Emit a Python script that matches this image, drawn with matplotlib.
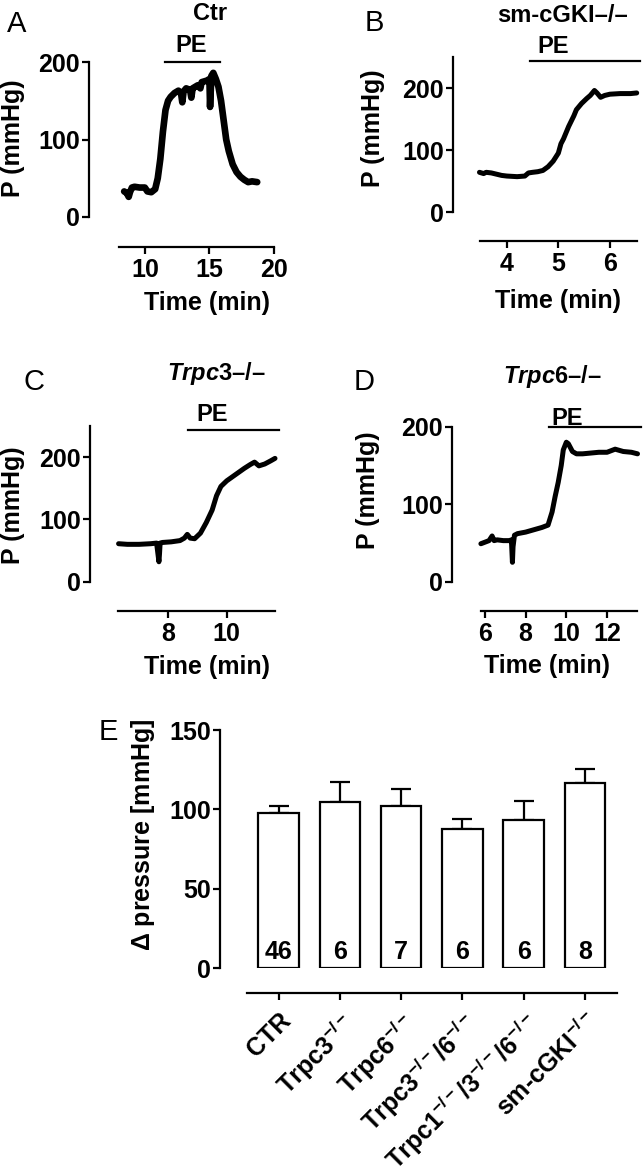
#
# Pressure traces (A-D) and delta pressure bar chart (E)
#

import numpy as np
import matplotlib.pyplot as plt

plt.rcParams['font.family'] = ['Liberation Sans', 'DejaVu Sans']
plt.rcParams['font.weight'] = 'bold'
plt.rcParams['mathtext.fontset'] = 'custom'
plt.rcParams['mathtext.rm'] = 'Liberation Sans'
plt.rcParams['mathtext.bf'] = 'Liberation Sans:bold'
plt.rcParams['mathtext.it'] = 'Liberation Sans:italic'
plt.rcParams['mathtext.bfit'] = 'Liberation Sans:italic:bold'

# Data
# A - Ctr
t_A = [8.4, 8.6, 8.75, 8.85, 9.0, 9.2, 9.6, 10.0, 10.2, 10.5, 10.8, 11.0, 11.2, 11.4,
       11.6, 11.8, 12.0, 12.3, 12.6, 12.8, 12.9, 13.0, 13.2, 13.5, 13.6, 13.7, 13.9,
       14.1, 14.3, 14.4, 14.6, 14.8, 15.0, 15.05, 15.15, 15.3, 15.5, 15.7, 15.9, 16.1,
       16.3, 16.5, 16.8, 17.1, 17.4, 17.7, 18.0, 18.3, 18.7]
p_A = [33, 31, 26, 32, 38, 39, 38, 38, 33, 32, 36, 50, 75, 110,
       138, 150, 155, 160, 163, 160, 148, 162, 166, 164, 154, 166, 168,
       170, 166, 174, 175, 176, 178, 142, 182, 186, 178, 168, 150, 125,
       100, 85, 68, 58, 52, 48, 45, 46, 45]
# B - sm-cGKI-/-
t_B = [3.47, 3.55, 3.6, 3.7, 3.8, 3.9, 4.0, 4.2, 4.35, 4.42, 4.5, 4.6, 4.7, 4.8, 4.9,
       5.0, 5.05, 5.1, 5.2, 5.3, 5.35, 5.45, 5.55, 5.62, 5.7, 5.75, 5.82, 5.9, 6.0,
       6.2, 6.4, 6.52]
p_B = [64, 62, 64, 63, 61, 59, 58, 57, 58, 63, 64, 65, 67, 73, 82,
       95, 110, 118, 138, 155, 165, 175, 183, 188, 196, 192, 185, 188, 190,
       191, 191, 192]
# C - Trpc3-/-
t_C = [6.3, 6.6, 7.0, 7.4, 7.6, 7.68, 7.7, 7.72, 7.8, 8.1, 8.4, 8.55, 8.65, 8.75, 8.9,
       9.1, 9.3, 9.5, 9.65, 9.8, 10.0, 10.3, 10.6, 10.8, 10.95, 11.1, 11.3, 11.5, 11.65]
p_C = [61, 60, 60, 61, 62, 32, 45, 62, 63, 64, 66, 70, 76, 70, 69,
       78, 95, 115, 138, 153, 162, 172, 182, 188, 192, 186, 189, 194, 198]
# D - Trpc6-/-
t_D = [5.8, 6.0, 6.2, 6.35, 6.45, 6.6, 6.9, 7.2, 7.3, 7.35, 7.38, 7.45, 7.6, 8.0, 8.4,
       8.8, 9.1, 9.3, 9.45, 9.6, 9.75, 9.85, 10.0, 10.1, 10.3, 10.5, 10.8, 11.2, 11.6,
       12.0, 12.4, 12.8, 13.2, 13.5]
p_D = [49, 51, 53, 59, 53, 54, 53, 53, 54, 25, 45, 60, 62, 64, 67,
       70, 73, 90, 110, 128, 150, 170, 180, 178, 168, 165, 165, 166, 167,
       167, 171, 168, 167, 165]

# E - bar chart
groups = ['CTR', r'Trpc3$^{\mathbf{-/-}}$', r'Trpc6$^{\mathbf{-/-}}$',
          r'Trpc3$^{\mathbf{-/-}}$/6$^{\mathbf{-/-}}$',
          r'Trpc1$^{\mathbf{-/-}}$/3$^{\mathbf{-/-}}$/6$^{\mathbf{-/-}}$',
          r'sm-cGKI$^{\mathbf{-/-}}$']
means = [98, 104.6, 102, 87.6, 93.3, 116.7]
sems = [4, 12.6, 10.8, 6.4, 11.9, 8.6]
n_animals = [46, 6, 7, 6, 6, 8]

FS = 18

W, H = 643, 1166
fig = plt.figure(figsize=(W / 100, H / 100), dpi=100)


def px_axes(left, top, right, bottom):
    return fig.add_axes([left / W, 1 - bottom / H, (right - left) / W, (bottom - top) / H])


def ftext(x, y, s, **kw):
    kw.setdefault('ha', 'center')
    kw.setdefault('va', 'center')
    return fig.text(x / W, 1 - y / H, s, **kw)


def prism_style(ax, off_left, off_bottom):
    for side in ['top', 'right']:
        ax.spines[side].set_visible(False)
    ax.spines['left'].set_position(('outward', off_left * 0.72))
    ax.spines['bottom'].set_position(('outward', off_bottom * 0.72))
    for side in ['left', 'bottom']:
        ax.spines[side].set_linewidth(1.6)
    ax.tick_params(width=1.6, length=5, labelsize=FS, pad=1.5)
    ax.tick_params(axis='x', pad=3)
    ax.patch.set_visible(False)


# trace panels: (times, pressures, box px, offsets, xlim, ylim, yticks, xticks, PE bar, PE text pos, lw)
panels = [
    (t_A, p_A, (119, 62, 274, 217), (30, 30), (8, 20), (0, 200), [0, 100, 200], [10, 15, 20],
     (11.55, 15.8, 200), (13.6, 221), 4.8),
    (t_B, p_B, (480, 57, 636.7, 212), (27, 29), (3.48, 6.52), (0, 250), [0, 100, 200], [4, 5, 6],
     (4.45, 6.58, 243), (4.9, 267), 3.6),
    (t_C, p_C, (118, 426, 275, 581.7), (28, 29), (6.28, 11.65), (0, 250), [0, 100, 200], [8, 10],
     (8.68, 11.8, 243), (9.5, 269), 3.6),
    (t_D, p_D, (480.7, 426.7, 636.7, 581.7), (29, 29), (5.79, 13.46), (0, 200), [0, 100, 200],
     [6, 8, 10, 12], (9.17, 13.65, 200), (10.04, 211), 3.6),
]

for t, p, box, offs, xl, yl, yt, xt, pe_bar, pe_txt, lw in panels:
    ax = px_axes(*box)
    ax.plot(t, p, color='black', lw=lw, solid_joinstyle='round', solid_capstyle='round',
            clip_on=False)
    ax.set_xlim(*xl)
    ax.set_ylim(*yl)
    ax.set_yticks(yt)
    ax.set_xticks(xt)
    prism_style(ax, *offs)
    ax.plot([pe_bar[0], pe_bar[1]], [pe_bar[2], pe_bar[2]], color='black', lw=1.6, clip_on=False)
    ax.text(pe_txt[0], pe_txt[1], 'PE', ha='center', va='center', fontsize=17)

# titles, panel letters, axis labels
ftext(210, 14, 'Ctr', fontsize=17)
ftext(497, 15, 'sm-cGKI–/–', fontsize=17, ha='left')
ftext(167, 373, r'$\mathbfit{Trpc}$3–/–', fontsize=17, ha='left')
ftext(503, 376, r'$\mathbfit{Trpc}$6–/–', fontsize=17, ha='left')

for letter, x, y in [('A', 17, 24), ('B', 374, 23), ('C', 34, 382), ('D', 364, 382), ('E', 108, 732)]:
    ftext(x, y, letter, fontsize=21, fontweight='normal')

for x, y in [(13, 138), (373, 128), (13, 505), (368, 490)]:
    ftext(x, y, 'P (mmHg)', fontsize=FS, rotation=90)
for x, y in [(207, 303), (558, 301), (207, 667), (547, 666)]:
    ftext(x, y, 'Time (min)', fontsize=FS)

# Panel E
axE = px_axes(246.7, 730, 616.7, 968.3)
xpos = np.arange(len(groups))
axE.bar(xpos, means, width=0.66, color='white', edgecolor='black', linewidth=1.6, zorder=2)
axE.errorbar(xpos, means, yerr=[np.zeros(len(sems)), sems], fmt='none', ecolor='black',
             elinewidth=1.6, capsize=7.5, capthick=1.6, zorder=1)
for x, n in zip(xpos, n_animals):
    axE.text(x, 10, str(n), ha='center', va='center', fontsize=FS, zorder=3)
axE.set_xlim(-0.52, 5.52)
axE.set_ylim(0, 150)
axE.set_yticks([0, 50, 100, 150])
axE.set_xticks(xpos)
prism_style(axE, 27, 25)
axE.set_xticklabels(groups, rotation=45, ha='right', rotation_mode='anchor', fontsize=FS)
axE.tick_params(axis='x', pad=6)
ftext(143, 835, r'$\Delta$ pressure [mmHg]', fontsize=FS, rotation=90)

fig.savefig('out.png', dpi=100)
